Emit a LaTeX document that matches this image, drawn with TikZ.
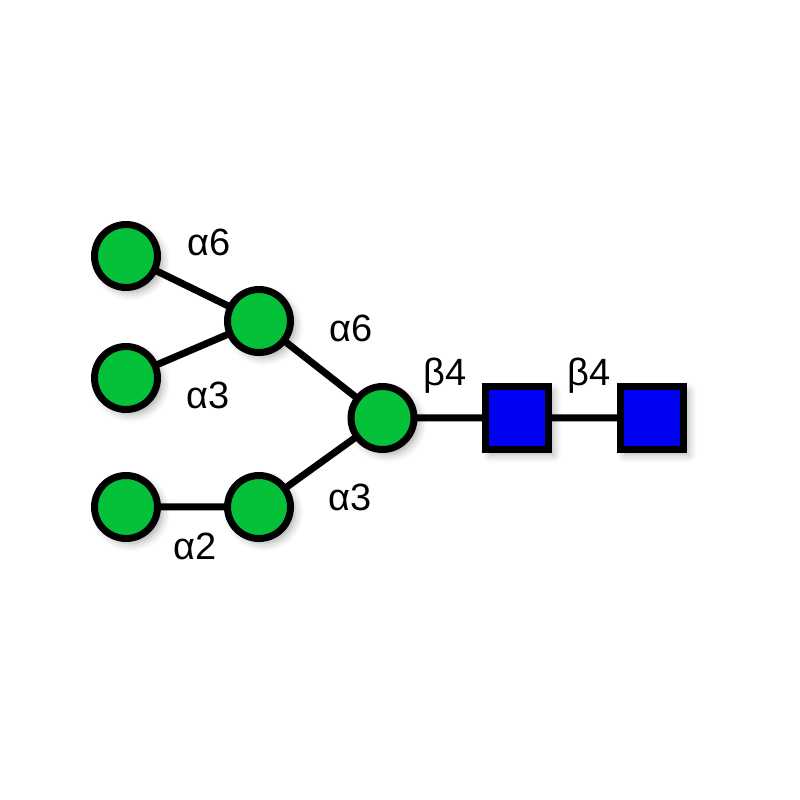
\documentclass[tikz,border=0pt]{standalone}
\usepackage{fontspec}
\setmainfont{Liberation Sans}
\usetikzlibrary{shadows.blur}

\definecolor{mangreen}{HTML}{05C13A}
\definecolor{glcblue}{HTML}{0000F2}

\tikzset{
  mansym/.style={circle,draw=black,fill=mangreen,line width=0.175cm,
    minimum size=1.575cm,inner sep=0pt,
    blur shadow={shadow xshift=0.12cm,shadow yshift=-0.12cm,
      shadow blur radius=0.2cm,shadow opacity=35}},
  glcsym/.style={rectangle,draw=black,fill=glcblue,line width=0.175cm,
    minimum size=1.575cm,inner sep=0pt,
    blur shadow={shadow xshift=0.12cm,shadow yshift=-0.12cm,
      shadow blur radius=0.2cm,shadow opacity=35}},
  link/.style={line width=0.175cm},
  linklabel/.style={inner sep=0pt,font=\fontsize{27}{32}\selectfont}
}

\begin{document}
\begin{tikzpicture}
      \useasboundingbox (0,0) rectangle (20,20);
      % links
      \coordinate (a) at (3.15,13.6);
      \coordinate (b) at (6.475,11.975);
      \coordinate (c) at (3.15,10.55);
      \coordinate (d) at (9.5625,9.55);
      \coordinate (e) at (3.15,7.325);
      \coordinate (f) at (6.475,7.325);
      \coordinate (g) at (12.925,9.55);
      \coordinate (h) at (16.3,9.55);
      \draw[link] (a) -- (b) -- (d) -- (h);
      \draw[link] (c) -- (b);
      \draw[link] (e) -- (f) -- (d);
      % residues
      \node[mansym] (mana) at (a) {};
      \node[mansym] (manb) at (b) {};
      \node[mansym] (manc) at (c) {};
      \node[mansym] (mand) at (d) {};
      \node[mansym] (mane) at (e) {};
      \node[mansym] (manf) at (f) {};
      \node[glcsym] (glca) at (g) {};
      \node[glcsym] (glcb) at (h) {};
      % linkage labels
      \node[linklabel] (la6) at (5.22,13.95) {α6};
      \node[linklabel] (la3) at (5.2,10.12) {α3};
      \node[linklabel] (lb6) at (8.77,11.8) {α6};
      \node[linklabel] (lb3) at (8.75,7.57) {α3};
      \node[linklabel] (le2) at (4.87,6.33) {α2};
      \node[linklabel] (lg4) at (11.12,10.6) {β4};
      \node[linklabel] (lh4) at (14.72,10.6) {β4};
    \end{tikzpicture}
\end{document}
